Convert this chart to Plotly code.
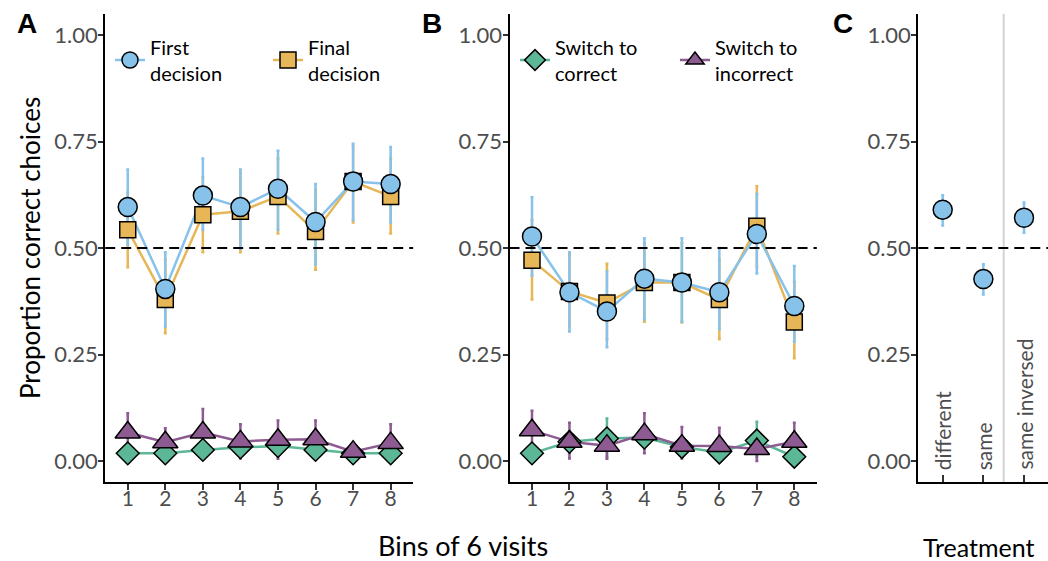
import plotly.graph_objects as go

# ---------------- data ----------------
bins = [1, 2, 3, 4, 5, 6, 7, 8]
y_tick_vals = [0.0, 0.25, 0.50, 0.75, 1.00]
y_tick_text = ["0.00", "0.25", "0.50", "0.75", "1.00"]

# Panel A
a_first = [0.596, 0.404, 0.623, 0.596, 0.639, 0.561, 0.656, 0.650]
a_first_hi = [0.684, 0.490, 0.710, 0.684, 0.728, 0.650, 0.745, 0.737]
a_first_lo = [0.508, 0.316, 0.543, 0.498, 0.543, 0.461, 0.566, 0.560]
a_final = [0.543, 0.379, 0.578, 0.586, 0.621, 0.539, 0.656, 0.621]
a_final_hi = [0.630, 0.473, 0.666, 0.676, 0.710, 0.637, 0.738, 0.710]
a_final_lo = [0.455, 0.300, 0.490, 0.490, 0.534, 0.449, 0.560, 0.534]
a_corr = [0.018, 0.018, 0.026, 0.032, 0.035, 0.026, 0.018, 0.018]
a_corr_hi = [0.030, 0.030, 0.040, 0.045, 0.048, 0.040, 0.030, 0.030]
a_corr_lo = [0.006, 0.006, 0.012, 0.019, 0.022, 0.012, 0.006, 0.006]
a_incorr = [0.067, 0.044, 0.067, 0.046, 0.050, 0.051, 0.022, 0.042]
a_incorr_hi = [0.112, 0.077, 0.122, 0.086, 0.095, 0.095, 0.040, 0.086]
a_incorr_lo = [0.022, 0.011, 0.012, 0.006, 0.005, 0.007, 0.004, 0.000]

# Panel B
b_first = [0.527, 0.396, 0.351, 0.428, 0.419, 0.396, 0.533, 0.364]
b_first_hi = [0.619, 0.490, 0.445, 0.523, 0.523, 0.500, 0.627, 0.458]
b_first_lo = [0.435, 0.304, 0.267, 0.333, 0.327, 0.310, 0.440, 0.280]
b_final = [0.471, 0.398, 0.371, 0.419, 0.419, 0.379, 0.551, 0.326]
b_final_hi = [0.566, 0.485, 0.463, 0.512, 0.512, 0.473, 0.645, 0.421]
b_final_lo = [0.379, 0.314, 0.286, 0.327, 0.325, 0.286, 0.455, 0.241]
b_corr = [0.018, 0.045, 0.053, 0.055, 0.033, 0.020, 0.048, 0.010]
b_corr_hi = [0.035, 0.070, 0.100, 0.080, 0.050, 0.035, 0.092, 0.022]
b_corr_lo = [0.005, 0.020, 0.010, 0.030, 0.015, 0.005, 0.010, 0.000]
b_incorr = [0.072, 0.045, 0.036, 0.063, 0.036, 0.035, 0.028, 0.045]
b_incorr_hi = [0.118, 0.090, 0.070, 0.112, 0.080, 0.078, 0.055, 0.090]
b_incorr_lo = [0.028, 0.006, 0.005, 0.018, 0.006, 0.005, 0.000, 0.005]

# Panel C
treatments = ["different", "same", "same inversed"]
c_first = [0.590, 0.427, 0.571]
c_first_hi = [0.624, 0.462, 0.607]
c_first_lo = [0.553, 0.391, 0.536]

# ---------------- style ----------------
BLUE = "#86C2EA"
ORANGE = "#E7B657"
GREEN = "#5BB795"
PURPLE = "#8D5A92"
FONT = "Lato"
TICK_COL = "#4D4D4D"
W, H = 1048, 561

series_style = {
    "first": dict(color=BLUE, symbol="circle", size=19, name="First<br>decision"),
    "final": dict(color=ORANGE, symbol="square", size=16, name="Final<br>decision"),
    "corr": dict(color=GREEN, symbol="diamond", size=17.5, name="Switch to<br>correct"),
    "incorr": dict(color=PURPLE, symbol="triangle-up", size=22, name="Switch to<br>incorrect"),
}

fig = go.Figure()


def err(v, hi, lo, color):
    return dict(type="data", symmetric=False,
                array=[h - m for h, m in zip(hi, v)],
                arrayminus=[m - l for m, l in zip(v, lo)],
                color=color, thickness=2.5, width=1.5)


def add_panel(x, series, xa, ya):
    # lines + error bars first
    for key, (v, hi, lo) in series:
        st = series_style[key]
        fig.add_trace(go.Scatter(x=x, y=v, mode="lines", xaxis=xa, yaxis=ya,
                                 line=dict(color=st["color"], width=2.5),
                                 error_y=err(v, hi, lo, st["color"]),
                                 showlegend=False, hoverinfo="skip"))
    # markers on top
    for key, (v, hi, lo) in series:
        st = series_style[key]
        fig.add_trace(go.Scatter(x=x, y=v, mode="markers", xaxis=xa, yaxis=ya,
                                 marker=dict(color=st["color"], symbol=st["symbol"], size=st["size"],
                                             line=dict(color="black", width=1.5)),
                                 showlegend=False))


add_panel(bins, [("final", (a_final, a_final_hi, a_final_lo)),
                 ("first", (a_first, a_first_hi, a_first_lo)),
                 ("corr", (a_corr, a_corr_hi, a_corr_lo)),
                 ("incorr", (a_incorr, a_incorr_hi, a_incorr_lo))], "x", "y")
add_panel(bins, [("final", (b_final, b_final_hi, b_final_lo)),
                 ("first", (b_first, b_first_hi, b_first_lo)),
                 ("corr", (b_corr, b_corr_hi, b_corr_lo)),
                 ("incorr", (b_incorr, b_incorr_hi, b_incorr_lo))], "x2", "y2")

# Panel C
fig.add_trace(go.Scatter(x=treatments, y=c_first, mode="markers", xaxis="x3", yaxis="y3",
                         marker=dict(color=BLUE, symbol="circle", size=19,
                                     line=dict(color="black", width=1.5)),
                         error_y=err(c_first, c_first_hi, c_first_lo, BLUE),
                         showlegend=False))

# legend-only entries
for key, leg in [("first", "legend"), ("final", "legend"), ("corr", "legend2"), ("incorr", "legend2")]:
    st = series_style[key]
    fig.add_trace(go.Scatter(x=[None], y=[None], mode="lines+markers", name=st["name"],
                             legend=leg, xaxis="x", yaxis="y",
                             line=dict(color=st["color"], width=2.5),
                             marker=dict(color=st["color"], symbol=st["symbol"], size=st["size"],
                                         line=dict(color="black", width=1.5))))


def px_x(p):
    return p / W


def px_y(p):
    return 1 - p / H


ydom = [px_y(482.3), px_y(13.7)]
common_y = dict(domain=ydom, range=[-0.05, 1.05], tickvals=y_tick_vals, ticktext=y_tick_text,
                showline=True, linecolor="black", linewidth=2, ticks="outside", ticklen=5,
                tickwidth=1.5, tickcolor="#333333", showgrid=False, zeroline=False,
                ticklabelstandoff=-4,
                tickfont=dict(family=FONT, size=22, color=TICK_COL))
common_x = dict(showline=True, linecolor="black", linewidth=2, ticks="outside", ticklen=6,
                tickwidth=1.5, tickcolor="#333333", showgrid=False, zeroline=False,
                ticklabelstandoff=-10,
                tickfont=dict(family=FONT, size=21, color=TICK_COL))

fig.update_layout(
    width=W, height=H, margin=dict(l=0, r=0, t=0, b=0),
    paper_bgcolor="white", plot_bgcolor="white",
    font=dict(family=FONT, color="black"),
    xaxis=dict(domain=[px_x(105.2), px_x(413.2)], range=[0.4, 8.6], tickvals=bins,
               anchor="y", **common_x),
    yaxis=dict(anchor="x", **common_y),
    xaxis2=dict(domain=[px_x(509.5), px_x(816.8)], range=[0.4, 8.6], tickvals=bins,
                anchor="y2", **common_x),
    yaxis2=dict(anchor="x2", **common_y),
    xaxis3=dict(domain=[px_x(918.3), 1.0], range=[-0.6, 2.59], type="category",
                anchor="y3", showline=True, linecolor="black", linewidth=2,
                ticks="inside", ticklen=7, tickwidth=1.5, tickcolor="#333333",
                showticklabels=False, showgrid=False, zeroline=False),
    yaxis3=dict(anchor="x3", **common_y),
    legend=dict(orientation="h", x=px_x(110), y=px_y(60), xanchor="left", yanchor="middle",
                bgcolor="rgba(0,0,0,0)", entrywidth=113, entrywidthmode="pixels",
                font=dict(family=FONT, size=20, color="black")),
    legend2=dict(orientation="h", x=px_x(515), y=px_y(60), xanchor="left", yanchor="middle",
                 bgcolor="rgba(0,0,0,0)", entrywidth=115, entrywidthmode="pixels",
                 font=dict(family=FONT, size=20, color="black")),
)

# reference lines
for xr, yr in [("x", "y"), ("x2", "y2"), ("x3", "y3")]:
    fig.add_shape(type="line", xref=f"{xr} domain", yref=yr, x0=0, x1=1, y0=0.5, y1=0.5,
                  line=dict(color="black", width=2, dash="10px,6px"))
fig.add_shape(type="line", xref="x3", yref="y3 domain", x0=1.5, x1=1.5, y0=0, y1=1,
              line=dict(color="#D3D3D3", width=2), layer="below")

# panel C category labels, drawn inside the panel above the axis
for t in treatments:
    fig.add_annotation(text=t, xref="x3", yref="paper", x=t, y=px_y(472), textangle=-90,
                       xanchor="center", yanchor="bottom", showarrow=False,
                       font=dict(family=FONT, size=21, color=TICK_COL))

# text
ann = [
    dict(text="Proportion correct choices", x=px_x(30), y=px_y(248), textangle=-90,
         font=dict(size=26)),
    dict(text="Bins of 6 visits", x=px_x(463), y=px_y(545), font=dict(size=27)),
    dict(text="Treatment", x=px_x(979), y=px_y(547), font=dict(size=25)),
    dict(text="<b>A</b>", x=px_x(27), y=px_y(24), font=dict(size=28, family="Liberation Sans")),
    dict(text="<b>B</b>", x=px_x(432), y=px_y(24), font=dict(size=28, family="Liberation Sans")),
    dict(text="<b>C</b>", x=px_x(843), y=px_y(24), font=dict(size=28, family="Liberation Sans")),
]
for a in ann:
    fig.add_annotation(xref="paper", yref="paper", showarrow=False, xanchor="center",
                       yanchor="middle", **a)

fig.write_html("out.html")
